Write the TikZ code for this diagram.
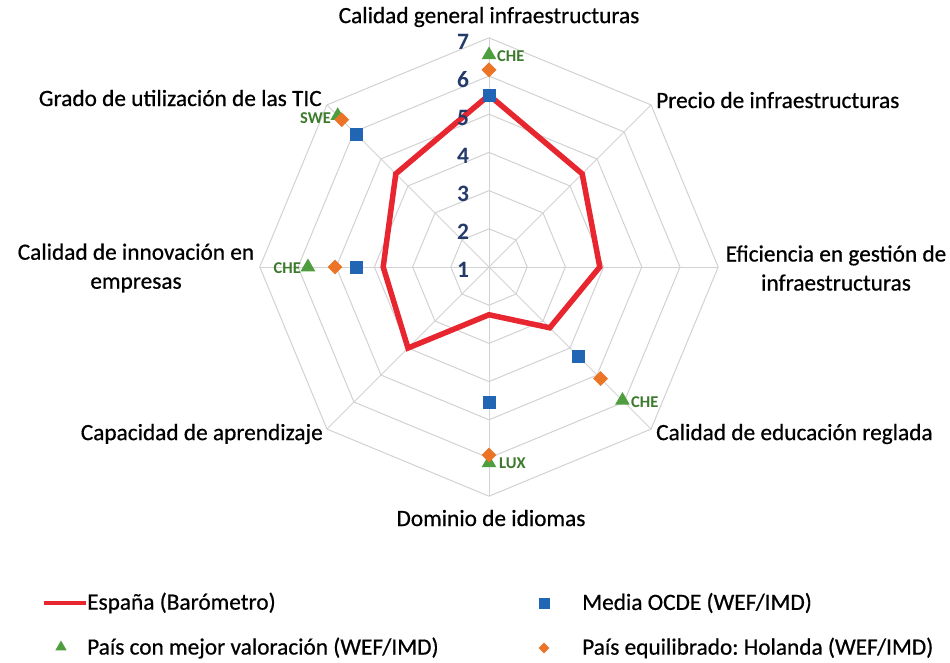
\documentclass[tikz,border=0pt]{standalone}
\usepackage{fontspec}
\setmainfont{Carlito}
\newfontfamily\heavyfont{Carlito}[FakeBold=0.6]
\usetikzlibrary{shapes.geometric,calc}
\definecolor{gridc}{HTML}{D2D2D2}
\definecolor{redc}{HTML}{E8262F}
\definecolor{bluec}{HTML}{2166B5}
\definecolor{orangec}{HTML}{EC7426}
\definecolor{greenc}{HTML}{4E9E3F}
\definecolor{labc}{HTML}{3C7A2C}
\definecolor{numc}{HTML}{243A6A}
\frenchspacing
\begin{document}
\begin{tikzpicture}[x=1pt,y=-1pt,
  cat/.style={font=\heavyfont\fontsize{23.3}{29}\selectfont, text=black, inner sep=0pt, align=center},
  leg/.style={font=\heavyfont\fontsize{23.3}{26}\selectfont, text=black, inner sep=0pt, anchor=west},
  num/.style={font=\fontsize{23.5}{26}\selectfont\bfseries, text=numc, inner sep=0pt},
  lab/.style={font=\fontsize{16.5}{18}\selectfont\bfseries, text=labc, inner sep=0pt},
  sq/.style={rectangle, fill=bluec, minimum size=13pt, inner sep=0pt},
  dia/.style={diamond, fill=orangec, minimum size=15pt, inner sep=0pt},
  tri/.style={regular polygon, regular polygon sides=3, fill=greenc, minimum size=17pt, inner sep=0pt},
  gridline/.style={draw=gridc, line width=1pt}]
\useasboundingbox (0,0) rectangle (950,663);
\fill[white] (0,0) rectangle (950,663);
\coordinate (C) at (489,267);
\begin{scope}[shift={(C)}]
  % grid
  \foreach \v in {2,...,7}
    \draw[gridline] (-90:{(\v-1)*38.2}) \foreach \k in {1,...,7}{ -- ({-90+45*\k}:{(\v-1)*38.2})} -- cycle;
  \foreach \k in {0,...,7}
    \draw[gridline] (0,0) -- ({-90+45*\k}:229.2);
  % Spain
  \foreach \k/\v in {0/5.5,1/4.45,2/3.9,3/3.25,4/2.25,5/4.0,6/3.77,7/4.45}
    \coordinate (e\k) at ({-90+45*\k}:{(\v-1)*38.2});
  \draw[redc, line width=5.5pt, line join=miter] (e0) -- (e1) -- (e2) -- (e3) -- (e4) -- (e5) -- (e6) -- (e7) -- cycle;
  % best country
  \foreach \k/\v in {0/6.55,7/6.6,6/5.74,3/5.94,4/6.13}
    \node[tri] (g\k) at ({-90+45*\k}:{(\v-1)*38.2}) {};
  % Holanda
  \foreach \k/\v in {0/6.16,7/6.45,6/5.03,3/5.13,4/5.92}
    \node[dia] (o\k) at ({-90+45*\k}:{(\v-1)*38.2}) {};
  % OCDE
  \foreach \k/\v in {0/5.48,7/5.9,6/4.48,3/4.3,4/4.56}
    \node[sq] (b\k) at ({-90+45*\k}:{(\v-1)*38.2}) {};
\end{scope}
% axis numbers
\foreach \n in {1,...,7}
  \node[num] (n\n) at (463,{270-(\n-1)*38.0}) {\n};
% country labels
\node[lab, anchor=west] (l0) at (497,56) {CHE};
\node[lab, anchor=east] (l7) at (331,118) {SWE};
\node[lab, anchor=east] (l6) at (301,268) {CHE};
\node[lab, anchor=west] (l3) at (631,402) {CHE};
\node[lab, anchor=west] (l4) at (499,463) {LUX};
% category labels
\node[cat] (c0) at (489,17) {Calidad general infraestructuras};
\node[cat, anchor=west] (c1) at (656,100) {Precio de infraestructuras};
\node[cat] (c2) at (836,268) {Eficiencia en gestión de\\infraestructuras};
\node[cat, anchor=west] (c3) at (656,434) {Calidad de educación reglada};
\node[cat] (c4) at (491,518) {Dominio de idiomas};
\node[cat, anchor=east] (c5) at (323,434) {Capacidad de aprendizaje};
\node[cat] (c6) at (136,268) {Calidad de innovación en\\empresas};
\node[cat, anchor=east] (c7) at (322,98) {Grado de utilización de las TIC};
% legend
\coordinate (k1a) at (44,603);
\coordinate (k1b) at (86,603);
\draw[redc, line width=4pt] (k1a) -- (k1b);
\node[leg] (t1) at (87,603) {España (Barómetro)};
\node[sq, minimum size=11pt] (k2) at (544,603) {};
\node[leg] (t2) at (582,603) {Media OCDE (WEF/IMD)};
\node[tri, minimum size=13pt] (k3) at (61,647) {};
\node[leg] (t3) at (87,648) {País con mejor valoración (WEF/IMD)};
\node[dia, minimum size=11pt] (k4) at (544,648) {};
\node[leg] (t4) at (582,648) {País equilibrado: Holanda (WEF/IMD)};
\end{tikzpicture}
\end{document}
